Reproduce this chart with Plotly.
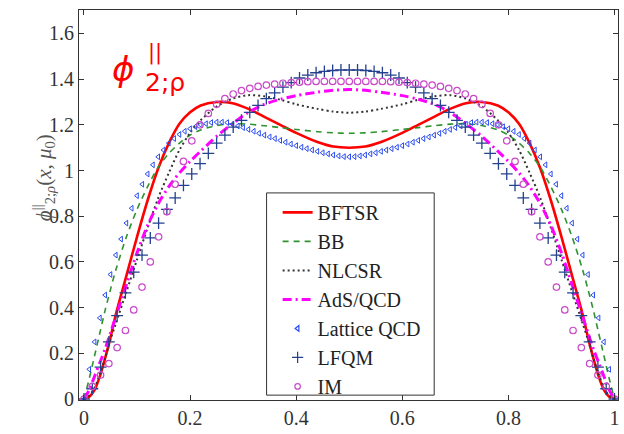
import plotly.graph_objects as go

# ---------------- data ----------------
X_LINE = [0, 0.01, 0.02, 0.03, 0.04, 0.05, 0.06, 0.08, 0.10, 0.12, 0.14, 0.16, 0.18, 0.20, 0.22, 0.25,
          0.28, 0.31, 0.34, 0.37, 0.40, 0.44, 0.47, 0.50, 0.53, 0.56, 0.60, 0.63, 0.66, 0.69, 0.72, 0.75,
          0.78, 0.80, 0.82, 0.84, 0.86, 0.88, 0.90, 0.92, 0.94, 0.95, 0.96, 0.97, 0.98, 0.99, 1.0]

BFTSR = [0, 0.01, 0.04, 0.10, 0.18, 0.27, 0.37, 0.54, 0.71, 0.87, 1.01, 1.12, 1.205, 1.255, 1.285, 1.30,
         1.295, 1.27, 1.235, 1.20, 1.165, 1.125, 1.105, 1.10, 1.105, 1.125, 1.165, 1.20, 1.235, 1.27, 1.295, 1.30,
         1.285, 1.255, 1.205, 1.12, 1.01, 0.87, 0.71, 0.54, 0.37, 0.27, 0.18, 0.10, 0.04, 0.01, 0]

BB = [0, 0.09, 0.19, 0.29, 0.39, 0.48, 0.565, 0.71, 0.83, 0.93, 1.015, 1.075, 1.12, 1.155, 1.178, 1.197,
      1.205, 1.203, 1.196, 1.188, 1.18, 1.17, 1.165, 1.163, 1.165, 1.17, 1.18, 1.188, 1.196, 1.203, 1.205, 1.197,
      1.178, 1.155, 1.12, 1.075, 1.015, 0.93, 0.83, 0.71, 0.565, 0.48, 0.39, 0.29, 0.19, 0.09, 0]

NLCSR = [0, 0.015, 0.05, 0.11, 0.18, 0.26, 0.33, 0.47, 0.61, 0.75, 0.88, 0.99, 1.09, 1.165, 1.22, 1.28,
         1.315, 1.33, 1.325, 1.31, 1.29, 1.27, 1.258, 1.253, 1.258, 1.27, 1.29, 1.31, 1.325, 1.33, 1.315, 1.28,
         1.22, 1.165, 1.09, 0.99, 0.88, 0.75, 0.61, 0.47, 0.33, 0.26, 0.18, 0.11, 0.05, 0.015, 0]

ADS = [0, 0.04, 0.10, 0.16, 0.22, 0.29, 0.36, 0.50, 0.64, 0.76, 0.855, 0.93, 0.99, 1.04, 1.085, 1.15,
       1.205, 1.255, 1.29, 1.312, 1.328, 1.343, 1.351, 1.355, 1.351, 1.343, 1.328, 1.312, 1.29, 1.255, 1.205, 1.15,
       1.085, 1.04, 0.99, 0.93, 0.855, 0.76, 0.64, 0.50, 0.36, 0.29, 0.22, 0.16, 0.10, 0.04, 0]

X_LATTICE = [i / 100 for i in range(101)]
LATTICE = [0, 0.13, 0.25, 0.355, 0.455, 0.545, 0.63, 0.70, 0.77, 0.835, 0.89, 0.94, 0.985, 1.025, 1.06,
           1.09, 1.12, 1.14, 1.158, 1.172, 1.183, 1.192, 1.20, 1.205, 1.21, 1.212, 1.212, 1.21, 1.203, 1.195,
           1.188, 1.18, 1.172, 1.163, 1.155, 1.147, 1.14, 1.132, 1.124, 1.116, 1.109, 1.102, 1.096, 1.09, 1.084,
           1.078, 1.073, 1.068, 1.064, 1.061, 1.06,
           1.061, 1.064, 1.068, 1.073, 1.078, 1.084, 1.09, 1.096, 1.102, 1.109, 1.116, 1.124, 1.132, 1.14, 1.147,
           1.155, 1.163, 1.172, 1.18, 1.188, 1.195, 1.203, 1.21, 1.212, 1.212, 1.21, 1.205, 1.20, 1.192, 1.183,
           1.172, 1.158, 1.14, 1.12, 1.09, 1.06, 1.025, 0.985, 0.94, 0.89, 0.835, 0.77, 0.70, 0.63, 0.545,
           0.455, 0.355, 0.25, 0.13, 0]

X_64 = [k / 64 for k in range(65)]
LFQM = [0, 0.045, 0.14, 0.25, 0.365, 0.465, 0.555, 0.63, 0.705, 0.77, 0.83, 0.88, 0.935, 0.985, 1.03, 1.075,
        1.12, 1.155, 1.19, 1.22, 1.255, 1.285, 1.315, 1.34, 1.365, 1.385, 1.405, 1.418, 1.428, 1.434, 1.438,
        1.44, 1.44,
        1.44, 1.438, 1.434, 1.428, 1.418, 1.405, 1.385, 1.365, 1.34, 1.315, 1.285, 1.255, 1.22, 1.19, 1.155,
        1.12, 1.075, 1.03, 0.985, 0.935, 0.88, 0.83, 0.77, 0.705, 0.63, 0.555, 0.465, 0.365, 0.25, 0.14,
        0.045, 0]

IM = [0, 0.055, 0.105, 0.155, 0.225, 0.30, 0.39, 0.49, 0.60, 0.71, 0.82, 0.94, 1.04, 1.13, 1.20, 1.25,
      1.29, 1.315, 1.335, 1.35, 1.36, 1.368, 1.374, 1.378, 1.382, 1.385, 1.387, 1.389, 1.39, 1.39, 1.39,
      1.39, 1.39,
      1.39, 1.39, 1.39, 1.39, 1.389, 1.387, 1.385, 1.382, 1.378, 1.374, 1.368, 1.36, 1.35, 1.335, 1.315,
      1.29, 1.25, 1.20, 1.13, 1.04, 0.94, 0.82, 0.71, 0.60, 0.49, 0.39, 0.30, 0.225, 0.155, 0.105,
      0.055, 0]

X_TICKS = [0, 0.2, 0.4, 0.6, 0.8, 1]
X_TICK_TEXT = ["0", "0.2", "0.4", "0.6", "0.8", "1"]
Y_TICKS = [0, 0.2, 0.4, 0.6, 0.8, 1.0, 1.2, 1.4, 1.6]
Y_TICK_TEXT = ["0", "0.2", "0.4", "0.6", "0.8", "1", "1.2", "1.4", "1.6"]

# ---------------- styles ----------------
SERIF = "Liberation Serif"
RED = "#ff0000"
GREEN = "#2e922e"
DOT = "#333333"
MAG = "#ff00ff"
TRI = "#2a4cf0"
CROSS = "#24418f"
CIRC = "#c94ac9"

fig = go.Figure()

line_specs = [
    ("BFTSR", BFTSR, dict(color=RED, width=2.6)),
    ("BB", BB, dict(color=GREEN, width=1.6, dash="6px,5px")),
    ("NLCSR", NLCSR, dict(color=DOT, width=2, dash="2px,3px")),
    ("AdS/QCD", ADS, dict(color=MAG, width=3, dash="9px,4px,2px,4px")),
]
for name, ys, ln in line_specs:
    fig.add_trace(go.Scatter(x=X_LINE, y=ys, mode="lines", name=name, legendgroup=name,
                             line=dict(shape="spline", smoothing=0.8, **ln)))

fig.add_trace(go.Scatter(x=X_LATTICE, y=LATTICE, mode="markers", name="Lattice QCD", showlegend=False,
                         marker=dict(symbol="triangle-left-open", size=5, color=TRI,
                                     line=dict(width=1, color=TRI))))
fig.add_trace(go.Scatter(x=X_64, y=LFQM, mode="markers", name="LFQM", showlegend=False,
                         marker=dict(symbol="cross-thin-open", size=8.5, color=CROSS,
                                     line=dict(width=1.3, color=CROSS))))
fig.add_trace(go.Scatter(x=X_64, y=IM, mode="markers", name="IM", showlegend=False,
                         marker=dict(symbol="circle-open", size=6.5, color=CIRC,
                                     line=dict(width=1.2, color=CIRC))))

# legend entries for the marker series (small symbols as in the reference)
for name, sym, size, col in [("Lattice QCD", "triangle-left-open", 5, TRI),
                             ("LFQM", "cross-thin-open", 8, CROSS),
                             ("IM", "circle-open", 5.5, CIRC)]:
    fig.add_trace(go.Scatter(x=[None], y=[None], mode="markers", name=name, legendgroup=name,
                             marker=dict(symbol=sym, size=size, color=col, line=dict(width=1.2, color=col))))

axis_common = dict(showgrid=False, zeroline=False, showline=True, linecolor="#333333", linewidth=1,
                   mirror="ticks", ticks="inside", ticklen=5, tickcolor="#333333",
                   tickfont=dict(family=SERIF, size=20, color="#333333"))

fig.update_xaxes(range=[-0.0094, 1.0066], tickvals=X_TICKS, ticktext=X_TICK_TEXT, **axis_common)
fig.update_yaxes(range=[-0.0043, 1.7027], tickvals=Y_TICKS, ticktext=Y_TICK_TEXT, **axis_common)

fig.update_layout(
    width=624, height=434,
    margin=dict(l=79, r=5, t=10, b=25),
    plot_bgcolor="white", paper_bgcolor="white",
    legend=dict(x=0.3685, y=0.531, xanchor="left", yanchor="top", bgcolor="rgba(0,0,0,0)",
                borderwidth=0, traceorder="grouped", tracegroupgap=0,
                font=dict(family=SERIF, size=20, color="#222222")),
    shapes=[dict(type="rect", xref="paper", yref="paper", x0=0.348, x1=0.659, y0=0.0125, y1=0.531,
                 line=dict(color="#333333", width=1), fillcolor="white", layer="above")],
    annotations=[
        dict(text="<i>ϕ</i>", xref="paper", yref="paper", x=0.058, y=0.85, xanchor="left",
             yanchor="middle", showarrow=False, font=dict(family="DejaVu Sans", size=34, color=RED)),
        dict(text="||", xref="paper", yref="paper", x=0.124, y=0.892, xanchor="left",
             yanchor="middle", showarrow=False, font=dict(family="DejaVu Sans", size=21, color=RED)),
        dict(text="2;ρ", xref="paper", yref="paper", x=0.119, y=0.814, xanchor="left",
             yanchor="middle", showarrow=False, font=dict(family="DejaVu Sans", size=25, color=RED)),
        dict(text="<i>ϕ</i><sup>||</sup><sub>2;<i>ρ</i></sub>(<i>x</i>, <i>μ</i><sub>0</sub>)",
             xref="paper", yref="paper", x=-0.066, y=0.57, xanchor="center", yanchor="middle",
             textangle=-90, showarrow=False,
             font=dict(family=SERIF, size=21, color="#555555")),
    ],
)

fig.write_html("out.html")
